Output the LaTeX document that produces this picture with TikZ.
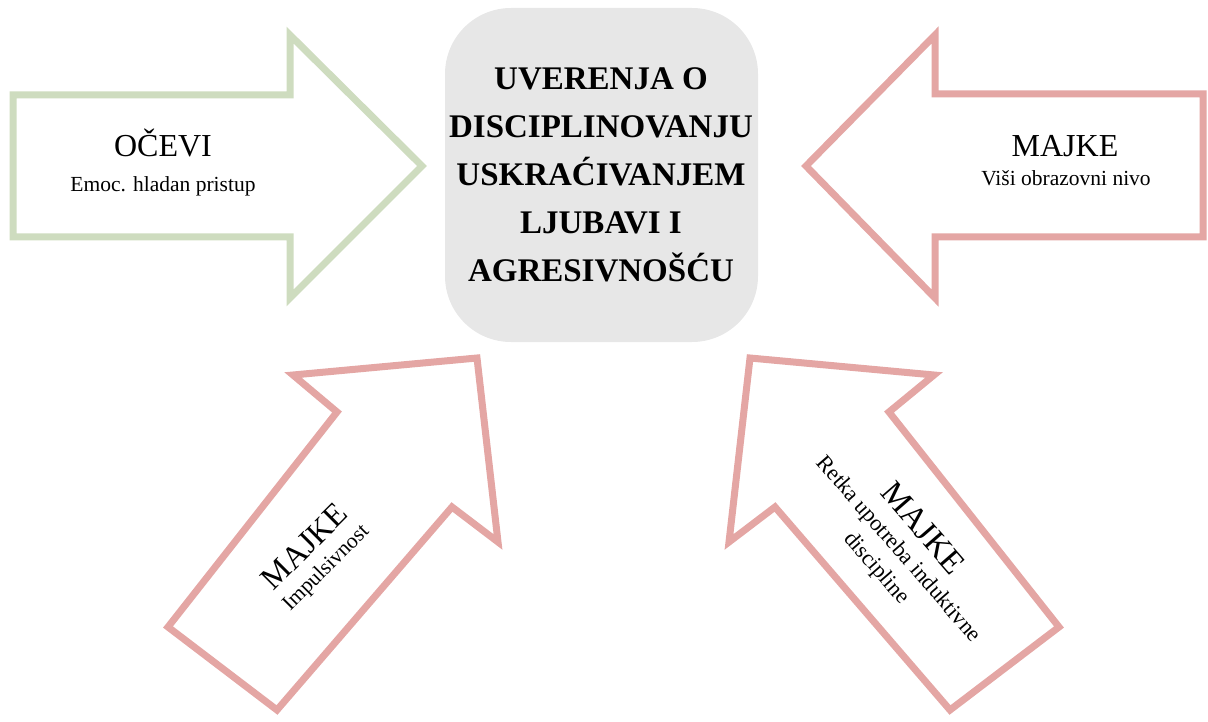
\documentclass[tikz,border=0pt]{standalone}
\usepackage{fontspec}
\setmainfont{Liberation Serif}
\definecolor{arrgreen}{RGB}{206,220,191}
\definecolor{arrpink}{RGB}{228,166,164}
\definecolor{boxgray}{RGB}{231,231,231}
\tikzset{
  arrowshape/.style={line width=7pt, line join=miter, fill=white},
  greenarrow/.style={arrowshape, draw=arrgreen},
  pinkarrow/.style={arrowshape, draw=arrpink},
  bigtxt/.style={font=\fontsize{32}{38}\selectfont, anchor=base, inner sep=0pt},
  smalltxt/.style={font=\fontsize{21.5}{26}\selectfont, anchor=base, inner sep=0pt},
  centertxt/.style={font=\bfseries\fontsize{33}{48}\selectfont, anchor=base, inner sep=0pt},
}
\begin{document}
\begin{tikzpicture}[x=1pt,y=-1pt]
\useasboundingbox (0,0) rectangle (1208,722);
% central box
\fill[boxgray, rounded corners=66pt] (445,8) rectangle (758,342);
\node[centertxt] (c1) at (601,90) {UVERENJA O};
\node[centertxt] (c2) at (601,138) {DISCIPLINOVANJU};
\node[centertxt] (c3) at (601,186) {USKRAĆIVANJEM};
\node[centertxt] (c4) at (601,234) {LJUBAVI I};
\node[centertxt] (c5) at (601,282) {AGRESIVNOŠĆU};
% left green arrow
\draw[greenarrow] (13,95) -- (290,95) -- (290,35) -- (422,166) -- (290,298) -- (290,237) -- (13,237) -- cycle;
\node[bigtxt] (oc) at (163,157) {OČEVI};
\node[smalltxt] (ocs) at (163,192) {Emoc. hladan pristup};
% right pink arrow
\draw[pinkarrow] (1203,94) -- (935,94) -- (935,35) -- (806,166) -- (935,298) -- (935,237) -- (1203,237) -- cycle;
\node[bigtxt] (mr) at (1065,157) {MAJKE};
\node[smalltxt] (mrs) at (1066,186) {Viši obrazovni nivo};
% bottom-left pink arrow
\draw[pinkarrow] (477,358) -- (293,375) -- (337,412) -- (168,627) -- (277,710) -- (452,507) -- (498,542) -- cycle;
\node[rotate=45, align=center, inner sep=0pt, font=\fontsize{21.5}{26}\selectfont] (ml) at (315,557)
  {{\fontsize{32}{26}\selectfont MAJKE}\\Impulsivnost};
% bottom-right pink arrow
\draw[pinkarrow] (750,358) -- (934,375) -- (889,412) -- (1059,627) -- (950,710) -- (775,507) -- (729,542) -- cycle;
\node[rotate=-49, align=center, inner sep=0pt, font=\fontsize{22.5}{29}\selectfont] (mb) at (900,548)
  {{\fontsize{33}{29}\selectfont MAJKE}\\[-1pt]Retka upotreba induktivne\\discipline};
\end{tikzpicture}
\end{document}
